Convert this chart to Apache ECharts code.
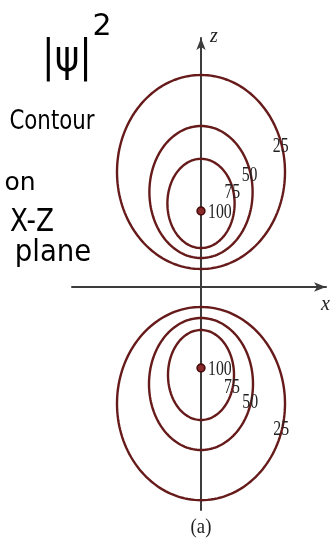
<!DOCTYPE html>
<html>
<head>
<meta charset="utf-8">
<script src="https://cdn.jsdelivr.net/npm/echarts@6/dist/echarts.min.js"></script>
<style>
  html, body { margin: 0; padding: 0; background: #ffffff; }
  #chart { width: 335px; height: 550px; }
</style>
</head>
<body>
<div id="chart"></div>
<script>
// |psi|^2 contour levels on the x-z plane (two lobes, above and below the x axis)
const levels = [25, 50, 75];
const upperCenterZ = [5.75, 4.75, 4.18];
const upperHalfX = [4.2, 2.58, 1.68];
const upperHalfZ = [4.85, 3.3, 2.23];
const lowerCenterZ = [-5.83, -4.85, -4.4];
const lowerHalfX = [4.2, 2.6, 1.65];
const lowerHalfZ = [4.83, 3.3, 2.25];
const peakLevel = 100;
const peakZ = [3.8, -4.05];

const CONTOUR = '#661a1a';
const LABEL_FONT = '22px "Liberation Serif", "Times New Roman", serif';

// rows: [level, centerZ, halfX, halfZ, lobe(+1 upper / -1 lower)]
const contourRows = [];
levels.forEach(function (lv, i) {
  contourRows.push([lv, upperCenterZ[i], upperHalfX[i], upperHalfZ[i], 1]);
  contourRows.push([lv, lowerCenterZ[i], lowerHalfX[i], lowerHalfZ[i], -1]);
});
const peakRows = peakZ.map(function (z) { return [0, z, peakLevel]; });

function renderContour(params, api) {
  const lv = api.value(0), cz = api.value(1), hx = api.value(2), hz = api.value(3), lobe = api.value(4);
  const pts = [];
  const n = 160;
  for (let k = 0; k < n; k++) {
    const t = 2 * Math.PI * k / n;
    pts.push(api.coord([hx * Math.cos(t), cz + hz * Math.sin(t)]));
  }
  // value label sits on the right-hand side of each ring
  const a = (lobe > 0 ? 16 : -15) * Math.PI / 180;
  const lp = api.coord([hx * Math.cos(a), cz + hz * Math.sin(a)]);
  return {
    type: 'group',
    children: [
      { type: 'polygon', shape: { points: pts },
        style: { fill: 'none', stroke: CONTOUR, lineWidth: 2.4 } },
      { type: 'text', x: lp[0] - 1, y: lp[1] + 1, scaleX: 0.72,
        style: { text: String(lv), font: LABEL_FONT, fill: '#222',
                 align: 'center', verticalAlign: 'middle' } }
    ]
  };
}

function renderPeak(params, api) {
  const p = api.coord([api.value(0), api.value(1)]);
  return {
    type: 'group',
    children: [
      { type: 'circle', shape: { cx: p[0], cy: p[1], r: 3.9 },
        style: { fill: '#8a2a2a', stroke: '#4a0c0c', lineWidth: 1.6 } },
      { type: 'text', x: p[0] + 7, y: p[1] + 1, scaleX: 0.72,
        style: { text: String(api.value(2)), font: LABEL_FONT, fill: '#222',
                 align: 'left', verticalAlign: 'middle' } }
    ]
  };
}

const axisLine = {
  show: true, onZero: true,
  symbol: ['none', 'arrow'], symbolSize: [7, 12],
  lineStyle: { color: '#3c3c3c', width: 2 }
};
const axisName = {
  fontFamily: '"Liberation Serif", serif', fontStyle: 'italic', fontSize: 20, color: '#222'
};

const chart = echarts.init(document.getElementById('chart'), null, { renderer: 'canvas' });
chart.setOption({
  animation: false,
  backgroundColor: '#ffffff',
  grid: { left: 72, top: 38, width: 254, height: 472, containLabel: false },
  xAxis: {
    type: 'value', min: -6.45, max: 6.25,
    axisLine: axisLine, axisTick: { show: false }, axisLabel: { show: false }, splitLine: { show: false },
    name: 'x', nameLocation: 'end', nameGap: -5,
    nameTextStyle: Object.assign({ align: 'left', verticalAlign: 'top', padding: [8, 0, 0, 0] }, axisName)
  },
  yAxis: {
    type: 'value', min: -11.15, max: 12.45,
    axisLine: axisLine, axisTick: { show: false }, axisLabel: { show: false }, splitLine: { show: false },
    name: 'z', nameLocation: 'end', nameGap: -9,
    nameTextStyle: Object.assign({ align: 'left', verticalAlign: 'bottom', padding: [0, 0, 0, 9] }, axisName)
  },
  series: [
    { type: 'custom', renderItem: renderContour, data: contourRows, clip: false, z: 3 },
    { type: 'custom', renderItem: renderPeak, data: peakRows, clip: false, z: 4 }
  ],
  graphic: [
    { type: 'text', x: 201, y: 527, scaleX: 0.85,
      style: { text: '(a)', font: '22px "Liberation Serif", serif', fill: '#222',
               align: 'center', verticalAlign: 'middle', textAlign: 'center', textVerticalAlign: 'middle' } },
    { type: 'text', x: 67, y: 60, scaleX: 0.85,
      style: { text: '|ψ|', font: '44px "DejaVu Sans", sans-serif', fill: '#000',
               align: 'center', verticalAlign: 'middle', textAlign: 'center', textVerticalAlign: 'middle' } },
    { type: 'text', x: 102, y: 27,
      style: { text: '2', font: '30px "DejaVu Sans", sans-serif', fill: '#000',
               align: 'center', verticalAlign: 'middle', textAlign: 'center', textVerticalAlign: 'middle' } },
    { type: 'text', x: 52, y: 122, scaleX: 0.79,
      style: { text: 'Contour', font: '27px "DejaVu Sans", sans-serif', fill: '#000',
               align: 'center', verticalAlign: 'middle', textAlign: 'center', textVerticalAlign: 'middle' } },
    { type: 'text', x: 20, y: 183,
      style: { text: 'on', font: '25px "DejaVu Sans", sans-serif', fill: '#000',
               align: 'center', verticalAlign: 'middle', textAlign: 'center', textVerticalAlign: 'middle' } },
    { type: 'text', x: 32, y: 223, scaleX: 0.82,
      style: { text: 'X-Z', font: '32px "DejaVu Sans", sans-serif', fill: '#000',
               align: 'center', verticalAlign: 'middle', textAlign: 'center', textVerticalAlign: 'middle' } },
    { type: 'text', x: 53, y: 253, scaleX: 0.92,
      style: { text: 'plane', font: '30px "DejaVu Sans", sans-serif', fill: '#000',
               align: 'center', verticalAlign: 'middle', textAlign: 'center', textVerticalAlign: 'middle' } }
  ]
});
</script>
</body>
</html>
